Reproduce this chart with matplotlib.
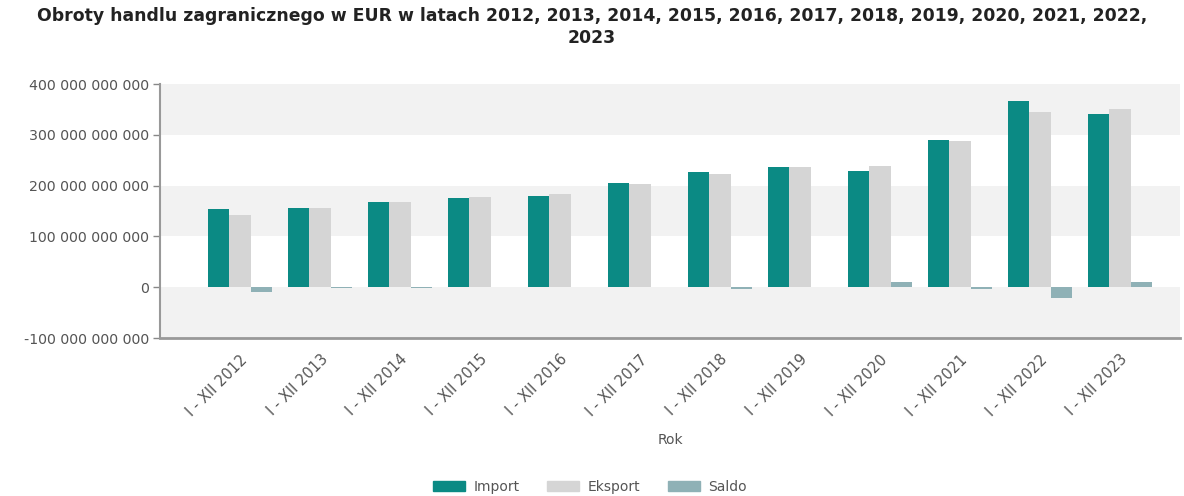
import matplotlib
matplotlib.use("Agg")
import matplotlib.pyplot as plt
from matplotlib.patches import Patch
import numpy as np

# dane (mld EUR)
years = ["2012", "2013", "2014", "2015", "2016", "2017",
         "2018", "2019", "2020", "2021", "2022", "2023"]
import_bn = [153, 156, 168, 175, 179, 205, 227, 237, 229, 290, 366, 340]
eksport_bn = [143, 156, 167, 178, 184, 204, 223, 237, 238, 287, 344, 350]
saldo_bn = [-10, -2, -2, 1, 1, 1, -3, 0, 10, -3, -21, 10]

labels = ["I - XII " + y for y in years]
y_ticks = [-100, 0, 100, 200, 300, 400]

c_import = "#0b8a84"
c_eksport = "#d5d5d5"
c_saldo = "#8fb1b6"
c_band = "#f2f2f2"
c_text = "#555555"

fig = plt.figure(figsize=(11.84, 4.96), dpi=100)
ax = fig.add_axes([160 / 1184, 1 - 338 / 496, 1020 / 1184, 254 / 496])

x = np.arange(len(years))
w = 0.265
ax.bar(x - w, np.array(import_bn) * 1e9, w, color=c_import, zorder=3)
ax.bar(x, np.array(eksport_bn) * 1e9, w, color=c_eksport, zorder=3)
ax.bar(x + w, np.array(saldo_bn) * 1e9, w, color=c_saldo, zorder=3)

# pasy tła
for lo in (-100, 100, 300):
    ax.axhspan(lo * 1e9, (lo + 100) * 1e9, color=c_band, zorder=0, lw=0)

ax.set_xlim(-1, 11.75)
ax.set_ylim(-100e9, 400e9)
ax.set_yticks([v * 1e9 for v in y_ticks])
ax.set_yticklabels([f"{v * 1000000000:,}".replace(",", " ") for v in y_ticks])
ax.set_xticks(x)
ax.set_xticklabels(labels, rotation=45, ha="right", rotation_mode="anchor")

ax.tick_params(axis="y", length=5, width=1, color="#888888", labelsize=10.2, labelcolor=c_text, pad=3)
ax.tick_params(axis="x", length=0, labelsize=10.5, labelcolor=c_text, pad=10)

for s in ("top", "right"):
    ax.spines[s].set_visible(False)
ax.spines["left"].set_color("#999999")
ax.spines["left"].set_linewidth(1.5)
ax.spines["bottom"].set_color("#999999")
ax.spines["bottom"].set_linewidth(2)

fig.text(670 / 1184, 1 - 440 / 496, "Rok", ha="center", va="center", fontsize=10, color=c_text)

fig.text(0.5, 1 - 27 / 496,
         "Obroty handlu zagranicznego w EUR w latach 2012, 2013, 2014, 2015, 2016, 2017, 2018, 2019, 2020, 2021, 2022,\n2023",
         ha="center", va="center", fontsize=12.4, fontweight="bold", color="#222222", linespacing=1.35)

handles = [Patch(color=c_import, label="Import"),
           Patch(color=c_eksport, label="Eksport"),
           Patch(color=c_saldo, label="Saldo")]
fig.legend(handles=handles, loc="center", bbox_to_anchor=(590 / 1184, 1 - 487 / 496),
           ncol=3, frameon=False, fontsize=10, handlelength=2.3, handleheight=0.8,
           columnspacing=2.0, handletextpad=0.6, labelcolor=c_text)

fig.savefig("out.png", dpi=100)
